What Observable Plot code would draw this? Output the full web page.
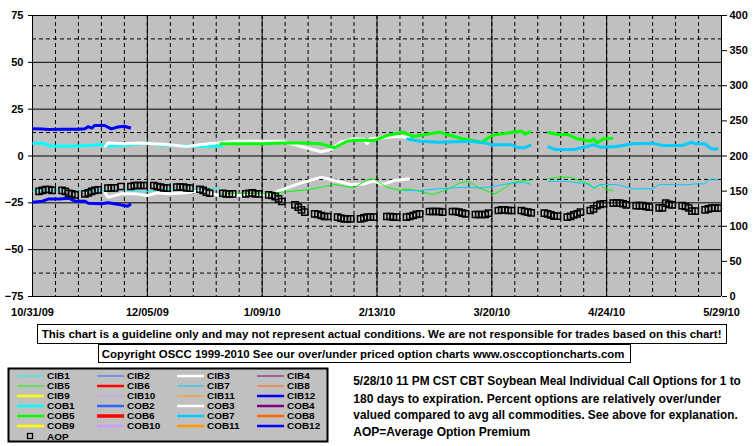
<!DOCTYPE html>
<html><head><meta charset="utf-8">
<script src="https://cdn.jsdelivr.net/npm/d3@7"></script>
<script src="https://cdn.jsdelivr.net/npm/@observablehq/plot@0.6"></script>
<style>
body{margin:0;background:#fff;width:755px;height:446px;overflow:hidden;font-family:"Liberation Sans",Arial,sans-serif}
#chart svg{display:block}
</style></head><body><div id="chart"></div><script>
// ---------- axes / ticks ----------
const xStart = "2009-10-31", xEnd = "2010-05-29";
const xLabelDates = ["2009-10-31","2009-12-05","2010-01-09","2010-02-13","2010-03-20","2010-04-24","2010-05-29"];
const leftTicks = [-75,-50,-25,0,25,50,75];
const leftMinor = [-62.5,-37.5,-12.5,12.5,37.5,62.5];
const rightTicks = [0,50,100,150,200,250,300,350,400];

// ---------- series (date, percent over/under) ----------
const COB12 = [["2009-10-31",14.5],["2009-11-03",14.4],["2009-11-05",14.2],["2009-11-09",14.3],["2009-11-14",14.3],["2009-11-16",14.5],["2009-11-17",15.7],["2009-11-18",14.8],["2009-11-19",16.3],["2009-11-22",16.3],["2009-11-24",14.5],["2009-11-26",15.5],["2009-11-28",15.9],["2009-11-30",14.8]];
const CIB12 = [["2009-10-31",-24.7],["2009-11-03",-24.1],["2009-11-05",-22.9],["2009-11-08",-22.9],["2009-11-11",-22.5],["2009-11-13",-24.1],["2009-11-16",-24.1],["2009-11-17",-25.2],["2009-11-21",-25.5],["2009-11-23",-25.0],["2009-11-25",-25.5],["2009-11-28",-26.4],["2009-11-29",-26.8],["2009-11-30",-25.5]];
const COB1 = [["2009-10-31",6.8],["2009-11-03",6.8],["2009-11-06",5.2],["2009-11-12",5.2],["2009-11-17",5.6],["2009-11-21",6.1],["2009-11-23",5.2],["2009-11-27",5.6],["2009-12-05",7.0],["2009-12-09",6.0],["2009-12-14",5.6],["2009-12-20",5.2],["2009-12-26",5.2],["2009-12-28",5.2]];
const CIB1 = [["2009-10-31",-18.8],["2009-11-04",-18.0],["2009-11-09",-18.4],["2009-11-16",-19.0],["2009-11-22",-18.4],["2009-11-28",-18.0],["2009-12-04",-19.3],["2009-12-07",-18.4],["2009-12-11",-17.5],["2009-12-17",-18.0],["2009-12-23",-17.5],["2009-12-27",-17.0]];
const COB3 = [["2009-11-22",4.7],["2009-11-23",7.0],["2009-11-27",6.5],["2009-12-03",7.0],["2009-12-07",6.5],["2009-12-11",6.1],["2009-12-17",5.1],["2009-12-21",6.0],["2009-12-26",7.0],["2009-12-31",7.7],["2010-01-05",7.9],["2010-01-09",7.9],["2010-01-15",7.9],["2010-01-21",5.1],["2010-01-27",2.3],["2010-01-30",3.5],["2010-02-02",7.4],["2010-02-06",9.2],["2010-02-09",9.0],["2010-02-10",6.5],["2010-02-11",9.2],["2010-02-16",10.0],["2010-02-20",10.4],["2010-02-23",9.7]];
const CIB3 = [["2009-11-22",-19.3],["2009-11-23",-22.0],["2009-11-27",-20.2],["2009-12-01",-20.2],["2009-12-05",-21.1],["2009-12-08",-19.7],["2009-12-12",-20.2],["2009-12-16",-19.7],["2009-12-20",-18.8],["2009-12-25",-20.2],["2009-12-27",-21.1],["2010-01-02",-21.0],["2010-01-09",-20.5],["2010-01-13",-19.3],["2010-01-20",-14.9],["2010-01-27",-11.3],["2010-01-31",-13.1],["2010-02-05",-15.2],["2010-02-09",-14.9],["2010-02-12",-13.4],["2010-02-15",-15.2],["2010-02-18",-13.1],["2010-02-23",-12.2]];
const COB5 = [["2009-12-27",6.5],["2010-01-02",6.5],["2010-01-09",6.5],["2010-01-15",7.0],["2010-01-21",7.0],["2010-01-27",6.5],["2010-01-31",4.4],["2010-02-04",8.0],["2010-02-08",8.6],["2010-02-12",8.2],["2010-02-16",10.9],["2010-02-21",12.7],["2010-02-24",10.4],["2010-02-26",10.9],["2010-03-04",12.7],["2010-03-11",9.2],["2010-03-17",7.4],["2010-03-20",10.9],["2010-03-23",11.8],["2010-03-29",13.3],["2010-03-30",11.6],["2010-04-01",13.1],["2010-04-02",null],["2010-04-06",12.7],["2010-04-09",11.5],["2010-04-12",11.5],["2010-04-15",9.2],["2010-04-19",7.9],["2010-04-20",9.2],["2010-04-21",7.0],["2010-04-23",9.2],["2010-04-26",9.5]];
const CIB5 = [["2009-12-27",-20.6],["2010-01-02",-19.8],["2010-01-09",-20.2],["2010-01-15",-19.3],["2010-01-23",-18.0],["2010-01-28",-16.3],["2010-01-31",-15.2],["2010-02-06",-17.0],["2010-02-10",-12.7],["2010-02-12",-12.2],["2010-02-16",-16.7],["2010-02-20",-18.4],["2010-02-22",-17.5],["2010-02-25",-18.4],["2010-03-02",-20.6],["2010-03-07",-17.5],["2010-03-10",-14.5],["2010-03-13",-13.4],["2010-03-16",-17.0],["2010-03-19",-19.0],["2010-03-21",-20.2],["2010-03-23",-18.0],["2010-03-26",-14.5],["2010-03-29",-13.1],["2010-04-01",-13.1],["2010-04-02",null],["2010-04-06",-12.2],["2010-04-09",-11.3],["2010-04-13",-11.3],["2010-04-17",-14.0],["2010-04-19",-15.2],["2010-04-20",-17.5],["2010-04-22",-15.2],["2010-04-24",-18.0],["2010-04-26",-18.4]];
const COB7 = [["2010-02-22",9.2],["2010-02-26",7.9],["2010-03-04",7.4],["2010-03-13",7.9],["2010-03-18",7.0],["2010-03-20",6.0],["2010-03-26",6.0],["2010-03-28",4.4],["2010-03-30",4.4],["2010-04-01",6.0],["2010-04-02",null],["2010-04-06",5.1],["2010-04-08",3.5],["2010-04-14",3.5],["2010-04-18",5.1],["2010-04-20",6.1],["2010-04-22",4.7],["2010-04-27",5.1],["2010-05-02",6.5],["2010-05-08",6.8],["2010-05-11",5.6],["2010-05-17",5.6],["2010-05-19",6.8],["2010-05-20",7.4],["2010-05-21",6.5],["2010-05-24",6.5],["2010-05-25",5.0],["2010-05-26",3.8],["2010-05-28",3.8]];
const CIB7 = [["2010-02-21",-18.4],["2010-02-26",-18.4],["2010-03-04",-17.5],["2010-03-11",-16.7],["2010-03-17",-17.0],["2010-03-20",-16.3],["2010-03-26",-14.5],["2010-03-30",-14.0],["2010-04-01",-15.2],["2010-04-02",null],["2010-04-06",-13.6],["2010-04-12",-13.6],["2010-04-18",-14.9],["2010-04-20",-17.0],["2010-04-22",-15.2],["2010-04-27",-15.2],["2010-05-02",-17.5],["2010-05-08",-17.5],["2010-05-10",-15.2],["2010-05-14",-15.2],["2010-05-18",-15.4],["2010-05-21",-14.9],["2010-05-24",-14.9],["2010-05-25",-12.7],["2010-05-28",-12.7]];

// ---------- AOP (average option premium, right axis), Mon..Fri per week ----------
const aopWeekStarts = ["2009-11-02","2009-11-09","2009-11-16","2009-11-23","2009-11-30","2009-12-07","2009-12-14","2009-12-21","2009-12-28","2010-01-04","2010-01-11","2010-01-18","2010-01-25","2010-02-01","2010-02-08","2010-02-15","2010-02-22","2010-03-01","2010-03-08","2010-03-15","2010-03-22","2010-03-29","2010-04-05","2010-04-12","2010-04-19","2010-04-26","2010-05-03","2010-05-10","2010-05-17","2010-05-24"];
const aopValues = [
 [149.5,151,152.3,152.3,151],[151,149.5,147,146.2,144.8],[146.2,147.6,149.5,151,151.9],[154.2,154.6,154.6,null,156.6],
 [156.6,158,158,158,158],[158,156.6,155.6,154.6,154.2],[155.6,155.6,155.6,154.6,154.2],[152.7,151,148.5,147,null],
 [147,146.2,146.2,146.2,null],[146.2,147,147.6,146.2,146.2],[144.8,143.8,142.3,139,135.2],[null,130.5,127.1,123.4,120],
 [117.7,117,115.3,113.9,113.9],[112.9,111.5,110.6,110.6,110.6],[110.6,112,112.9,112.9,112.9],[null,113.9,113.9,112.9,112.9],
 [112.9,113.9,115.3,117,117.7],[121,121,121,121,120],[121,121,120,118.6,117.7],[116.7,116.7,116.7,116.7,118.6],
 [122.4,123.4,123.4,122.4,122.4],[122.4,121,120,119.1,null],[118.6,117.7,116.3,114.3,114.3],[112.9,114,116.3,117.7,120],
 [122.4,124.8,129.5,131,132],[132.8,132.8,132.8,132,130.5],[129.5,129.5,129.5,128.1,127.1],[126.2,126.2,132.8,131,130.5],
 [129.5,128.1,126,121.5,121.5],[123.4,124.8,125.7,125.7,125.7]
];

// ---------- legend ----------
const legendNames = ["CIB1","CIB2","CIB3","CIB4","CIB5","CIB6","CIB7","CIB8","CIB9","CIB10","CIB11","CIB12",
                     "COB1","COB2","COB3","COB4","COB5","COB6","COB7","COB8","COB9","COB10","COB11","COB12"];
const baseColors = ["#00FFFF","#3366FF","#FFFFFF","#800080","#00FF00","#FF0000","#00CCFF","#FF6600","#FFFF00","#CC99FF","#FF9900","#0000FF"];
const legendColors = [...baseColors, ...baseColors];
const legendWidths = [1,1,2.5,1,1,2.5,1,1,2.5,1,1,2.5, 2.5,2.5,2.5,2.5,2.5,3.5,2.5,2.5,2.5,2.5,2.5,2.5];

const disclaimer = "This chart is a guideline only and may not represent actual conditions. We are not responsible for trades based on this chart!";
const copyright = "Copyright OSCC 1999-2010 See our over/under priced option charts www.osccoptioncharts.com";
const notes = ["5/28/10 11 PM CST CBT Soybean Meal Individual Call Options for 1 to",
               "180 days to expiration. Percent options are relatively over/under",
               "valued compared to avg all commodities. See above for explanation.",
               "AOP=Average Option Premium"];

// ---------- build ----------
const parse = s => new Date(s + "T00:00:00Z");
const x0 = parse(xStart), x1 = parse(xEnd);
const toLeft = r => r * 150 / 400 - 75;
const colorOf = {}, widthOf = {};
legendNames.forEach((n, i) => { colorOf[n] = legendColors[i]; widthOf[n] = legendWidths[i] > 1 ? 3 : 1; });

const series = {CIB1, CIB3, CIB5, CIB7, CIB12, COB1, COB3, COB5, COB7, COB12};
const drawOrder = ["CIB1","CIB3","CIB5","CIB7","CIB12","COB1","COB3","COB5","COB7","COB12"];

const aop = [];
aopWeekStarts.forEach((w, i) => aopValues[i].forEach((v, j) => {
  if (v != null) aop.push({date: d3.utcDay.offset(parse(w), j), v});
}));

const weekly = d3.range(0, 211, 7).map(k => d3.utcDay.offset(x0, k));
const xLabels = xLabelDates.map(parse);
const dash = "4,3";

const chart = Plot.plot({
  width: 755, height: 322,
  marginLeft: 32, marginRight: 34, marginTop: 15, marginBottom: 26,
  style: {fontFamily: "'Liberation Sans', Arial, sans-serif", fontSize: "11px", fontWeight: "bold", background: "#fff", color: "#000", overflow: "visible"},
  x: {type: "utc", domain: [x0, x1], axis: null},
  y: {domain: [-75, 75], axis: null},
  marks: [
    Plot.frame({fill: "#C0C0C0", stroke: "none"}),
    Plot.ruleY(leftMinor, {stroke: "#000", strokeDasharray: dash}),
    Plot.ruleX(weekly, {stroke: "#000", strokeDasharray: dash}),
    Plot.ruleY(leftTicks, {stroke: "#000"}),
    Plot.ruleX(xLabels, {stroke: "#000"}),
    ...drawOrder.map(n => Plot.line(series[n], {
      x: d => parse(d[0]), y: d => d[1],
      stroke: colorOf[n], strokeWidth: widthOf[n], strokeLinejoin: "miter", strokeLinecap: "butt"
    })),
    Plot.dot(aop, {x: "date", y: d => toLeft(d.v), symbol: "square", r: 3.5, stroke: "#000", strokeWidth: 1.5, fill: "none"}),
    Plot.axisY(leftTicks, {anchor: "left", tickSize: 4, tickPadding: 5, label: null}),
    Plot.axisY(rightTicks.map(toLeft), {anchor: "right", tickSize: 5, tickPadding: 3, label: null,
      tickFormat: v => String(Math.round((v + 75) * 400 / 150))}),
    Plot.axisX(xLabels, {anchor: "bottom", tickSize: 0, tickPadding: 12, label: null, tickFormat: d3.utcFormat("%-m/%d/%y")})
  ]
});
document.getElementById("chart").appendChild(chart);

// ---------- captions and legend (below the chart) ----------
const H = 322;
const svg = d3.select("#chart").append("svg").attr("width", 755).attr("height", 446 - H)
  .style("display", "block").style("font-family", "'Liberation Sans', Arial, sans-serif");
const g = svg.append("g").attr("transform", `translate(0,${-H})`);

function box(x, y, w, h) {
  g.append("rect").attr("x", x).attr("y", y).attr("width", w).attr("height", h)
    .attr("fill", "#fff").attr("stroke", "#000").attr("stroke-width", 1);
}
// text squeezed/stretched horizontally to a target width (len) or by a factor (sx)
function text(str, x, y, size, len, sx0) {
  const t = g.append("text").attr("font-size", size).attr("font-weight", "bold").attr("fill", "#000")
    .attr("x", 0).attr("y", 0).text(str);
  let sx = sx0 || 1;
  if (len) { const w = t.node().getComputedTextLength(); if (w > 0) sx = len / w; }
  t.attr("transform", `translate(${x},${y}) scale(${sx},1)`);
  return t;
}
box(37.5, 324.5, 689, 19);
text(disclaimer, 41.7, 338, 10.5, 681);
box(98.5, 344.5, 532, 18);
text(copyright, 101.7, 357.5, 10.5, 523);

// legend
g.append("rect").attr("x", 8.5).attr("y", 368.5).attr("width", 319).attr("height", 73)
  .attr("fill", "#C0C0C0").attr("stroke", "#000").attr("stroke-width", 2);
const colX = [17, 97, 177, 257];
legendNames.forEach((n, i) => {
  const r = Math.floor(i / 4), c = i % 4, y = 376 + r * 10;
  g.append("line").attr("x1", colX[c]).attr("x2", colX[c] + 27).attr("y1", y).attr("y2", y)
    .attr("stroke", legendColors[i]).attr("stroke-width", legendWidths[i]);
  text(n, colX[c] + 30, y + 3.4, 8.9, null, 1.12);
});
g.append("rect").attr("x", 27.5).attr("y", 433.5).attr("width", 5).attr("height", 5)
  .attr("fill", "none").attr("stroke", "#000").attr("stroke-width", 1.3);
text("AOP", 47, 439.6, 8.9, null, 1.12);

// notes
const noteLens = [388, 368, 385, 177];
const noteY = [385.3, 402.5, 419.3, 436];
notes.forEach((s, i) => text(s, 353.3, noteY[i], 12.5, noteLens[i]));
</script></body></html>
